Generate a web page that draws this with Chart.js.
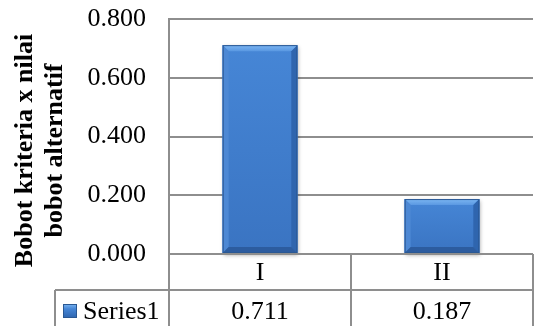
<!DOCTYPE html>
<html><head><meta charset="utf-8">
<script src="https://cdn.jsdelivr.net/npm/chart.js@4/dist/chart.umd.min.js"></script>
<style>html,body{margin:0;padding:0;background:#fff}#wrap{width:536px;height:326px;position:relative}</style>
</head><body><div id="wrap"><canvas id="c" width="536" height="326"></canvas></div>
<script>
const categories = ['I', 'II'];
const seriesName = 'Series1';
const values = [0.711, 0.187];
const yTickValues = [0, 0.2, 0.4, 0.6, 0.8];
const axisTitleLines = ['Bobot kriteria x nilai', 'bobot alternatif'];

const FONT = '"Liberation Serif","Times New Roman",serif';
const GRID = '#8e8e8e';

function poly(ctx, pts, fill) {
  ctx.beginPath();
  ctx.moveTo(pts[0][0], pts[0][1]);
  for (let i = 1; i < pts.length; i++) ctx.lineTo(pts[i][0], pts[i][1]);
  ctx.closePath();
  ctx.fillStyle = fill;
  ctx.fill();
}

const bevelPlugin = {
  id: 'bevel',
  beforeDatasetsDraw(chart) {
    const ctx = chart.ctx;
    ctx.save();
    chart.getDatasetMeta(0).data.forEach(bar => {
      const p = bar.getProps(['x', 'y', 'base', 'width'], true);
      ctx.shadowColor = 'rgba(0,0,0,0.35)';
      ctx.shadowBlur = 4;
      ctx.shadowOffsetX = 1;
      ctx.shadowOffsetY = 2;
      ctx.fillStyle = '#3e7bcb';
      ctx.fillRect(p.x - p.width / 2, p.y, p.width, p.base - p.y);
    });
    ctx.restore();
  },
  afterDatasetsDraw(chart) {
    const ctx = chart.ctx;
    ctx.save();
    chart.getDatasetMeta(0).data.forEach(bar => {
      const p = bar.getProps(['x', 'y', 'base', 'width'], true);
      const l = p.x - p.width / 2, r = p.x + p.width / 2, t = p.y, b = p.base;
      const d = 6;
      const face = ctx.createLinearGradient(0, t, 0, b);
      face.addColorStop(0, '#4686d6');
      face.addColorStop(1, '#3a74c2');
      ctx.fillStyle = face;
      ctx.fillRect(l, t, r - l, b - t);
      const tg = ctx.createLinearGradient(0, t, 0, t + d);
      tg.addColorStop(0, '#7cb6f2');
      tg.addColorStop(1, '#5a98e2');
      poly(ctx, [[l, t], [r, t], [r - d, t + d], [l + d, t + d]], tg);
      poly(ctx, [[l, t], [l + d, t + d], [l + d, b - d], [l, b]], '#4d88d4');
      poly(ctx, [[r, t], [r - d, t + d], [r - d, b - d], [r, b]], '#2f65ae');
      poly(ctx, [[l, b], [l + d, b - d], [r - d, b - d], [r, b]], '#2c5c9f');
      ctx.strokeStyle = '#2a5893';
      ctx.lineWidth = 1;
      ctx.strokeRect(l + 0.5, t + 0.5, r - l - 1, b - t - 1);
    });
    ctx.restore();
  }
};

const tablePlugin = {
  id: 'dataTable',
  afterDraw(chart) {
    const { ctx, chartArea: a, scales: { x } } = chart;
    const H = chart.height;
    const rowTop = a.bottom;
    const rowMid = a.bottom + 36;
    const cellLeft = a.left - 114;
    const catW = (a.right - a.left) / categories.length;
    ctx.save();
    ctx.strokeStyle = GRID;
    ctx.lineWidth = 2;
    ctx.beginPath();
    ctx.moveTo(a.left, rowTop); ctx.lineTo(a.right, rowTop);
    ctx.moveTo(cellLeft, rowMid); ctx.lineTo(a.right, rowMid);
    ctx.moveTo(a.left, rowTop); ctx.lineTo(a.left, H);
    ctx.moveTo(cellLeft, rowMid); ctx.lineTo(cellLeft, H);
    categories.forEach((c, i) => {
      const xr = x.getPixelForValue(i) + catW / 2;
      ctx.moveTo(xr, rowTop); ctx.lineTo(xr, H);
    });
    ctx.stroke();

    ctx.fillStyle = '#000';
    ctx.font = '26px ' + FONT;
    ctx.textAlign = 'center';
    ctx.textBaseline = 'middle';
    categories.forEach((c, i) => {
      const cx = x.getPixelForValue(i);
      ctx.fillText(c, cx, (rowTop + rowMid) / 2 + 1);
      ctx.fillText(values[i].toFixed(3), cx, rowMid + 22);
    });
    // legend key
    const kx = cellLeft + 8, ky = rowMid + 14, ks = 14;
    const kg = ctx.createLinearGradient(0, ky, 0, ky + ks);
    kg.addColorStop(0, '#7cb6f2');
    kg.addColorStop(0.35, '#4686d6');
    kg.addColorStop(1, '#2f65ae');
    ctx.fillStyle = kg;
    ctx.fillRect(kx, ky, ks, ks);
    ctx.strokeStyle = '#2a5893';
    ctx.lineWidth = 1;
    ctx.strokeRect(kx + 0.5, ky + 0.5, ks - 1, ks - 1);
    ctx.fillStyle = '#000';
    ctx.textAlign = 'left';
    ctx.fillText(seriesName, cellLeft + 28, rowMid + 22);

    // axis title
    ctx.font = 'bold 26px ' + FONT;
    ctx.textAlign = 'center';
    ctx.textBaseline = 'middle';
    const cy = (a.top + a.bottom) / 2 + 14;
    axisTitleLines.forEach((line, i) => {
      ctx.save();
      ctx.translate(a.left - 144 + i * 30, cy);
      ctx.rotate(-Math.PI / 2);
      ctx.fillText(line, 0, 0);
      ctx.restore();
    });
    ctx.restore();
  }
};

new Chart(document.getElementById('c'), {
  type: 'bar',
  data: {
    labels: categories,
    datasets: [{
      label: seriesName,
      data: values,
      backgroundColor: '#3e7bcb',
      borderWidth: 0,
      categoryPercentage: 1,
      barPercentage: 0.41
    }]
  },
  options: {
    responsive: false,
    animation: false,
    devicePixelRatio: 1,
    layout: { padding: { top: 19, right: 3, bottom: 72, left: 0 } },
    plugins: { legend: { display: false }, tooltip: { enabled: false } },
    scales: {
      x: { display: false },
      y: {
        min: 0,
        max: 0.8,
        afterBuildTicks: s => { s.ticks = yTickValues.map(v => ({ value: v })); },
        afterFit: s => { s.width = 169; s.paddingTop = 0; s.paddingBottom = 0; },
        ticks: {
          callback: v => Number(v).toFixed(3),
          color: '#000',
          font: { family: FONT, size: 26 },
          padding: 23
        },
        grid: { color: GRID, lineWidth: 2, drawTicks: false },
        border: { display: true, color: GRID, width: 2 }
      }
    }
  },
  plugins: [bevelPlugin, tablePlugin]
});
</script>
</body></html>
